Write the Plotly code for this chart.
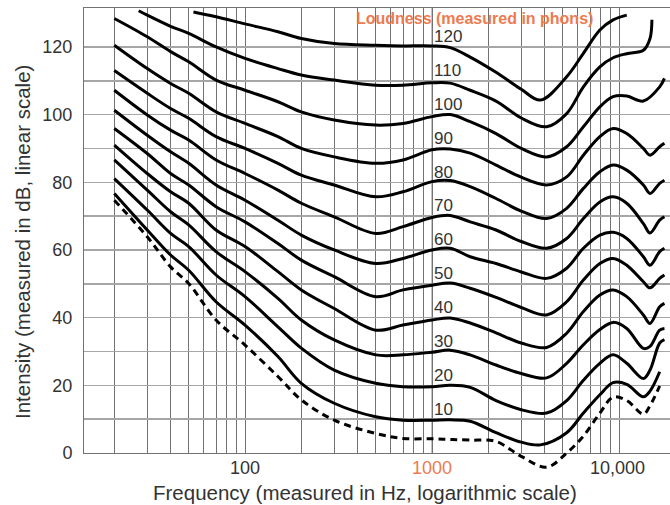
import math
import plotly.graph_objects as go

N = None
# frequency sample points (Hz)
freq = [20, 27, 30, 40, 50, 53, 70, 100, 150, 200, 300, 500, 700, 1000, 1250, 1600,
        2200, 3000, 3800, 4100, 5250, 6450, 7900, 9300, 11000, 13500, 14650, 15000, 16500, 17500]

# sound level (dB) of each equal-loudness contour
phon120 = [N, N, N, N, N, 130.3, 128.9, 126.8, 124.5, 122.5, 121.0, 120.5, 120.3, 120.3, 119.8, 117.0,
           112.5, 107.5, 104.3, N, 111.2, 118.1, 125.0, 128.0, 129.4, N, N, N, N, N]
phon110 = [N, 130.7, 129.4, 126.1, 124.0, N, 120.0, 116.6, 113.6, 111.7, 110.2, 108.7, 108.7, 109.4, 109.3, 107.2,
           104.0, 99.0, N, 96.4, 100.3, 108.2, 114.1, 116.8, 118.0, 119.0, 122.5, 128.0, N, N]
phon100 = [128.4, N, 123.0, 118.6, 115.6, N, 110.2, 107.2, 103.8, 100.8, 98.4, 96.9, 97.4, 99.4, 100.0, 97.9,
           94.4, 90.0, N, 87.5, 90.5, 96.4, 102.3, 105.3, 105.5, 104.0, N, N, 108.2, 110.7]
phon90 = [120.5, N, 113.6, 109.2, 106.3, N, 100.8, 97.4, 93.5, 90.0, 87.5, 85.6, 86.6, 89.6, 89.8, 88.6,
          85.1, 81.5, N, 79.2, 81.6, 88.0, 93.5, 95.9, 94.4, 90.0, 88.0, N, 90.5, 91.5]
phon80 = [113.0, N, 106.3, 101.8, 98.9, N, 93.5, 90.0, 85.6, 82.1, 79.2, 75.7, 77.2, 80.2, 80.5, 78.7,
          75.2, 71.5, N, 69.3, 72.3, 78.2, 83.1, 85.1, 83.6, 79.2, 76.7, N, 79.7, 80.6]
phon70 = [107.2, N, 99.9, 95.4, 92.5, N, 86.6, 82.6, 77.7, 73.8, 69.8, 64.9, 66.9, 69.6, 70.2, 68.3,
          65.9, 62.5, N, 60.5, 63.4, 69.3, 74.2, 75.7, 73.8, 67.8, 65.0, N, 68.8, 69.8]
phon60 = [101.3, N, 93.9, 89.0, 85.6, N, 79.2, 74.7, 68.8, 64.4, 60.0, 56.0, 57.5, 60.0, 60.5, 58.0,
          56.0, 53.5, N, 51.6, 54.6, 60.5, 64.4, 65.2, 63.4, 58.0, 55.5, N, 59.5, 60.5]
phon50 = [95.9, N, 88.5, 82.6, 79.2, N, 72.8, 68.3, 61.9, 57.0, 52.1, 46.2, 48.2, 49.6, 50.2, 48.7,
          46.0, 43.0, N, 40.8, 44.7, 51.1, 56.0, 57.5, 55.5, 50.6, 48.8, N, 51.6, 52.6]
phon40 = [91.0, N, 82.6, 77.2, 73.8, N, 65.9, 61.0, 53.6, 48.2, 42.7, 36.3, 37.8, 39.3, 39.9, 38.4,
          35.5, 32.5, N, 31.2, 35.4, 41.8, 46.7, 48.2, 46.2, 40.8, 38.3, N, 43.2, 44.2]
phon30 = [86.6, N, 77.7, 71.3, 67.4, N, 59.5, 53.6, 45.7, 39.3, 33.4, 29.0, 29.0, 29.8, 30.4, 29.0,
          26.0, 23.5, N, 22.2, 26.5, 32.0, 36.5, 38.6, 36.8, 30.9, 31.5, N, 36.3, 36.8]
phon20 = [81.1, N, 71.8, 64.9, 61.0, N, 52.6, 46.2, 37.3, 31.0, 24.5, 20.6, 19.6, 19.6, 20.0, 19.4,
          15.5, 12.8, N, 11.8, 15.5, 21.5, 26.5, 29.0, 26.5, 22.0, 24.5, N, 32.5, 33.5]
phon10 = [76.7, N, 65.9, 58.5, 54.0, N, 44.7, 37.8, 28.5, 20.6, 14.7, 10.7, 9.7, 9.7, 9.8, 9.4,
          6.0, 3.2, 2.4, N, 6.0, 11.8, 17.2, 20.8, 20.3, 16.6, 18.3, N, 24.0, N]
threshold = [74.7, N, 63.9, 55.0, 50.1, N, 39.3, 31.9, 22.6, 15.7, 9.7, 5.8, 4.3, 4.2, 4.0, 3.8,
             3.4, -1.0, N, -4.2, 0.0, 5.0, 11.8, 16.5, 15.5, 11.5, 14.0, N, 19.8, N]

phon_levels = [120, 110, 100, 90, 80, 70, 60, 50, 40, 30, 20, 10]
contours = [phon120, phon110, phon100, phon90, phon80, phon70, phon60, phon50, phon40, phon30, phon20, phon10]

x_grid = [20, 30, 40, 50, 60, 70, 80, 90, 100, 200, 300, 400, 500, 600, 700, 800, 900,
          1000, 2000, 3000, 4000, 5000, 6000, 7000, 8000, 9000, 10000]
x_tick_vals = [100, 1000, 10000]
x_tick_text = ["100", "1000", "10,000"]
y_grid = [0, 10, 20, 30, 40, 50, 60, 70, 80, 90, 100, 110, 120]
y_labels = {0: "0", 20: "20", 40: "40", 60: "60", 80: "80", 100: "100", 120: "120"}

ORANGE = "#EC7B50"
XGRID = "#727272"
YGRID = "#a6a6a6"
TXT = "#333333"
FONT = "Liberation Sans, Arial, Helvetica, sans-serif"

W, H = 670, 505
ML, MR, MT, MB = 84, 0, 8, 30
plot_w = W - ML - MR
plot_h = H - MT - MB
zero_px = 453
d0 = (H - MB - zero_px) / plot_h
ytop = 131.5
y2_lo = ytop - ytop / (1 - d0)
xr = [1.139, 4.2727]


def px_x(px):
    return (px - ML) / plot_w


def px_y(py):
    return (H - MB - py) / plot_h


fig = go.Figure()
for lvl, vals in zip(phon_levels, contours):
    fig.add_trace(go.Scatter(
        x=freq, y=vals, mode="lines", connectgaps=True, name=f"{lvl} phon",
        line=dict(color="black", width=3, shape="spline", smoothing=1.0),
        hoverinfo="skip", showlegend=False, xaxis="x", yaxis="y"))

fig.add_trace(go.Scatter(
    x=freq, y=threshold, mode="lines", connectgaps=True, name="threshold",
    line=dict(color="black", width=3, dash="7px,5px", shape="spline", smoothing=1.0),
    hoverinfo="skip", showlegend=False, xaxis="x2", yaxis="y2"))

annotations = []
for lvl in phon_levels:
    annotations.append(dict(
        x=3, y=lvl + 3, xref="x", yref="y", text=str(lvl), showarrow=False,
        xanchor="left", yanchor="middle", xshift=0,
        font=dict(family=FONT, size=17, color=TXT)))

# x tick labels
for v, t in zip(x_tick_vals, x_tick_text):
    annotations.append(dict(
        x=math.log10(v), y=px_y(468), xref="x", yref="paper", text=t, showarrow=False,
        xanchor="center", yanchor="middle", xshift=(-2 if v == 10000 else 0),
        font=dict(family=FONT, size=18, color=(ORANGE if v == 1000 else TXT))))

annotations.append(dict(
    x=px_x(474), y=px_y(18), xref="paper", yref="paper",
    text="<b>Loudness (measured in phons)</b>", showarrow=False,
    xanchor="center", yanchor="middle", font=dict(family=FONT, size=16, color=ORANGE)))
annotations.append(dict(
    x=px_x(365), y=px_y(492), xref="paper", yref="paper",
    text="Frequency (measured in Hz, logarithmic scale)", showarrow=False,
    xanchor="center", yanchor="middle", font=dict(family=FONT, size=20.5, color=TXT)))
annotations.append(dict(
    x=px_x(22), y=px_y(242), xref="paper", yref="paper",
    text="Intensity (measured in dB, linear scale)", showarrow=False, textangle=-90,
    xanchor="center", yanchor="middle", font=dict(family=FONT, size=20.5, color=TXT)))

fig.update_layout(
    width=W, height=H,
    margin=dict(l=ML, r=MR, t=MT, b=MB, pad=0, autoexpand=False),
    paper_bgcolor="white", plot_bgcolor="rgba(0,0,0,0)",
    font=dict(family=FONT, color=TXT),
    showlegend=False,
    xaxis=dict(type="log", range=xr, domain=[0, 1], anchor="y", automargin=False,
               tickmode="array", tickvals=x_grid, ticktext=["" for _ in x_grid],
               showgrid=True, gridcolor=XGRID, gridwidth=1, zeroline=False,
               showline=True, mirror=True, linecolor=XGRID, linewidth=1,
               ticks="", fixedrange=True),
    yaxis=dict(range=[0, ytop], domain=[d0, 1], anchor="x", automargin=False,
               tickmode="array", tickvals=y_grid,
               ticktext=[y_labels.get(v, "") for v in y_grid],
               showgrid=True, gridcolor=YGRID, gridwidth=1.5, zeroline=False,
               showline=True, linecolor=XGRID, linewidth=1,
               ticks="", ticklabelstandoff=7,
               tickfont=dict(family=FONT, size=18, color=TXT), fixedrange=True),
    xaxis2=dict(type="log", range=xr, domain=[0, 1], anchor="y2", visible=False,
                automargin=False, fixedrange=True),
    yaxis2=dict(range=[y2_lo, ytop], domain=[0, 1], anchor="x2", visible=False,
                automargin=False, fixedrange=True),
    shapes=[dict(type="line", xref="x", yref="y", x0=1000, x1=1000, y0=0, y1=ytop,
                 line=dict(color="#D9875F", width=1.2), layer="below")],
    annotations=annotations,
)

fig.write_html("out.html", config={"displayModeBar": False, "staticPlot": True},
               post_script="document.body.style.margin='0';document.body.style.padding='0';")
